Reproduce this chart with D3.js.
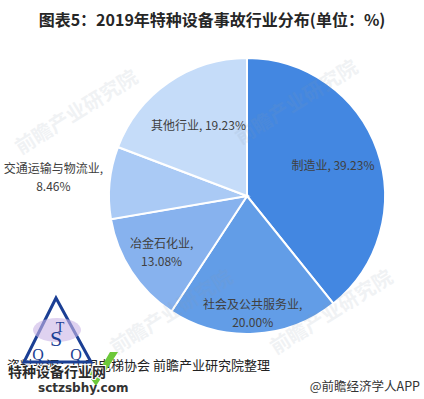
<!DOCTYPE html>
<html>
<head>
<meta charset="utf-8">
<style>
    body { margin: 0; background: #fff; }
    text { font-family: "Noto Sans CJK SC", "Noto Sans", sans-serif; }
    .label { font-size: 12px; fill: #404040; }
</style>
</head>
<body>
<svg id="chart" width="424" height="399"></svg>
<script src="https://d3js.org/d3.v7.min.js"></script>
<script>
    // data
    let industries = ["制造业", "社会及公共服务业", "冶金石化业", "交通运输与物流业", "其他行业"];
    let shares = [39.23, 20.00, 13.08, 8.46, 19.23];
    let sliceColors = ["#4387e1", "#629de7", "#87b2ee", "#aacaf5", "#c5dcf9"];

    let svg = d3.select("#chart");
    let cx = 247, cy = 196, radius = 138;

    svg.append("text")
        .attr("x", 212)
        .attr("y", 26)
        .attr("text-anchor", "middle")
        .style("font-size", "16px")
        .style("font-weight", "bold")
        .style("fill", "#262626")
        .text("图表5：2019年特种设备事故行业分布(单位：%)");

    let data = industries.map((name, i) => ({name: name, value: shares[i], color: sliceColors[i]}));

    let pie = d3.pie().sort(null).value((d) => d.value);
    let arc = d3.arc().innerRadius(0).outerRadius(radius);
    let arcs = pie(data);

    let body = svg.append("g").attr("transform", "translate(" + cx + "," + cy + ")");
    body.selectAll("path")
        .data(arcs)
        .enter()
        .append("path")
        .attr("d", arc)
        .attr("fill", (d) => d.data.color)
        .attr("stroke", "#fff")
        .attr("stroke-width", 2);

    // faint watermark text over the pie
    let marks = [[80, 118], [300, 108], [335, 318], [175, 318]];
    svg.selectAll(".wm")
        .data(marks)
        .enter()
        .append("text")
        .attr("transform", (d) => "translate(" + d[0] + "," + d[1] + ") rotate(-32)")
        .attr("text-anchor", "middle")
        .style("font-size", "20px")
        .style("font-weight", "bold")
        .style("fill", "#8a9aab")
        .style("opacity", 0.12)
        .text("前瞻产业研究院");

    // label placement (fraction of radius, label lines) per slice
    let labelRadius = [0.66, 0.85, 0.74, 1.41, 0.62];
    let twoLines = [false, true, true, true, false];

    arcs.forEach((d, i) => {
        let mid = (d.startAngle + d.endAngle) / 2;
        let r = radius * labelRadius[i];
        let x = Math.sin(mid) * r;
        let y = -Math.cos(mid) * r;
        let t = body.append("text")
            .attr("class", "label")
            .attr("text-anchor", "middle")
            .attr("x", x)
            .attr("y", y);
        let pct = d.data.value.toFixed(2) + "%";
        if (twoLines[i]) {
            t.append("tspan").attr("x", x).attr("dy", "-0.35em").text(d.data.name + ",");
            t.append("tspan").attr("x", x).attr("dy", "1.5em").text(pct);
        } else {
            t.attr("dy", "0.35em").text(d.data.name + ", " + pct);
        }
    });

    // footer
    svg.append("text")
        .attr("x", 7)
        .attr("y", 370)
        .style("font-size", "13px")
        .style("fill", "#222")
        .text("资料来源：中国电梯协会 前瞻产业研究院整理");

    svg.append("text")
        .attr("x", 420)
        .attr("y", 391)
        .attr("text-anchor", "end")
        .style("font-size", "12.5px")
        .style("fill", "#333")
        .text("@前瞻经济学人APP");

    // rough copy of the overlaid logo
    let logo = svg.append("g");
    logo.append("path")
        .attr("d", "M56,298 L24,362 L91,362 Z")
        .attr("fill", "none")
        .attr("stroke", "#1b3f94")
        .attr("stroke-width", 3);
    logo.append("ellipse")
        .attr("cx", 57).attr("cy", 330).attr("rx", 24).attr("ry", 12)
        .attr("fill", "#c9b4e6").attr("opacity", 0.6);
    [["S", 56, 346, 22], ["Q", 38, 360, 16], ["Q", 76, 360, 16], ["T", 60, 332, 14]].forEach((l) => {
        logo.append("text")
            .attr("x", l[1]).attr("y", l[2])
            .attr("text-anchor", "middle")
            .style("font-family", "Liberation Serif, serif")
            .style("font-size", l[3] + "px")
            .style("fill", "#1b3f94")
            .text(l[0]);
    });
    logo.append("path")
        .attr("d", "M86,372 L96,386 L118,352 L110,352 L96,376 L92,370 Z")
        .attr("fill", "#6cc83a");
    logo.append("text")
        .attr("x", 8).attr("y", 377)
        .style("font-size", "14px")
        .style("font-weight", "bold")
        .style("fill", "#2a2a2a")
        .style("stroke", "#fff").style("stroke-width", 2).style("paint-order", "stroke")
        .text("特种设备行业网");
    logo.append("text")
        .attr("x", 38).attr("y", 392)
        .style("font-family", "DejaVu Sans, sans-serif")
        .style("font-size", "12px")
        .style("font-weight", "bold")
        .style("fill", "#333")
        .text("sctzsbhy.com");
</script>
</body>
</html>
